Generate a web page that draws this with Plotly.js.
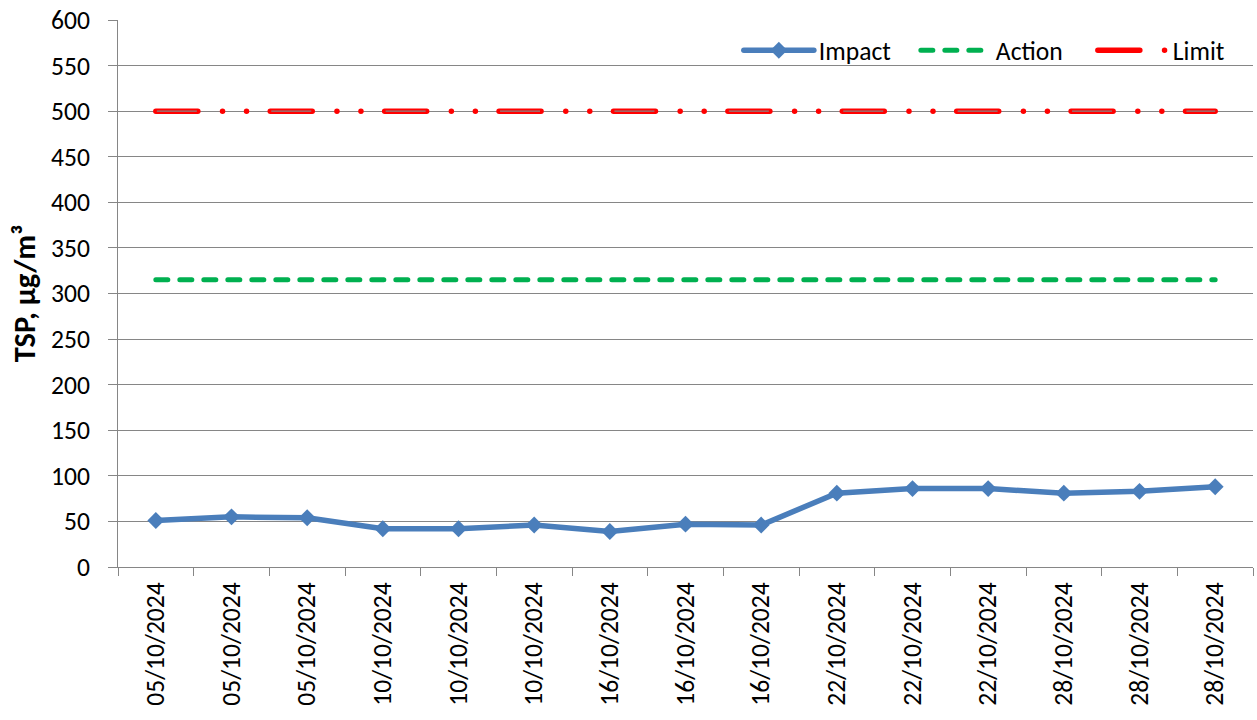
<!DOCTYPE html>
<html>
<head>
<meta charset="utf-8">
<script src="https://cdn.plot.ly/plotly-3.0.1.min.js"></script>
<style>
html,body{margin:0;padding:0;background:#fff;}
#chart{width:1257px;height:720px;}
#chart .js-line{stroke-linecap:round;}
#chart .scatterlayer .trace:nth-child(2) .js-line{stroke-linecap:butt;}
</style>
</head>
<body>
<div id="chart"></div>
<script>
const dates = ["05/10/2024","05/10/2024","05/10/2024","10/10/2024","10/10/2024","10/10/2024","16/10/2024","16/10/2024","16/10/2024","22/10/2024","22/10/2024","22/10/2024","28/10/2024","28/10/2024","28/10/2024"];
const impact = [51,55,54,42,42,46,39,47,46,81,86,86,81,83,88];
const action = [315,315,315,315,315,315,315,315,315,315,315,315,315,315,315];
const limit = [500,500,500,500,500,500,500,500,500,500,500,500,500,500,500];
const idx = dates.map((d,i)=>i);

const FONT = "Calibri, Carlito, 'Liberation Sans', Arial, sans-serif";
const GRAY = "#868686";

const traces = [
  {x: idx, y: limit, name: "Limit", mode: "lines", showlegend: true,
   line: {color: "#FF0000", width: 5.5, dash: "42px,24.7px,0.01px,24px,0.01px,23.69px"}, hoverinfo: "skip"},
  {x: idx, y: limit, name: "Limit inner", mode: "lines", showlegend: false,
   line: {color: GRAY, width: 1.3, dash: "0.01px,1px,40px,73.39px"}, hoverinfo: "skip"},
  {x: idx, y: action, name: "Action", mode: "lines",
   line: {color: "#00B050", width: 5, dash: "12px,12px"}},
  {x: idx, y: impact, name: "Impact", mode: "lines+markers",
   line: {color: "#4A7EBB", width: 5.5},
   marker: {symbol: "diamond", size: 13, color: "#4A7EBB"}}
];

const layout = {
  width: 1257, height: 720,
  margin: {l: 118, r: 4, t: 20, b: 153, autoexpand: false},
  paper_bgcolor: "#fff", plot_bgcolor: "#fff",
  font: {family: FONT, size: 25.6, color: "#000"},
  showlegend: true,
  legend: {orientation: "h", x: 0.547, xanchor: "left", y: 0.944, yanchor: "middle",
           traceorder: "reversed", itemwidth: 70, entrywidth: 92, entrywidthmode: "pixels",
           font: {family: FONT, size: 25.6},
           bgcolor: "rgba(0,0,0,0)"},
  xaxis: {range: [-0.5, 14.5], tickmode: "array", tickvals: idx, ticktext: dates,
          tickangle: -90, ticks: "", showgrid: false, zeroline: false,
          showline: true, linecolor: GRAY, linewidth: 1, automargin: false,
          tickfont: {family: FONT, size: 25.6}, ticklabelstandoff: 4,
          minor: {ticks: "outside", tick0: 0.5, dtick: 1, ticklen: 8, tickcolor: GRAY, tickwidth: 1, showgrid: false},
          fixedrange: true},
  yaxis: {range: [0, 600], dtick: 50, tick0: 0, ticks: "outside", ticklen: 9, tickcolor: GRAY,
          showline: true, linecolor: GRAY, linewidth: 1, showgrid: true, gridcolor: GRAY, gridwidth: 1,
          zeroline: false, automargin: false, tickfont: {family: FONT, size: 25.6}, ticklabelstandoff: 13,
          title: {text: "TSP, μg/m³", font: {family: FONT, size: 30.5, color: "#000", weight: "bold"}, standoff: 6},
          fixedrange: true}
};

Plotly.newPlot("chart", traces, layout, {displayModeBar: false, staticPlot: true});
</script>
</body>
</html>
